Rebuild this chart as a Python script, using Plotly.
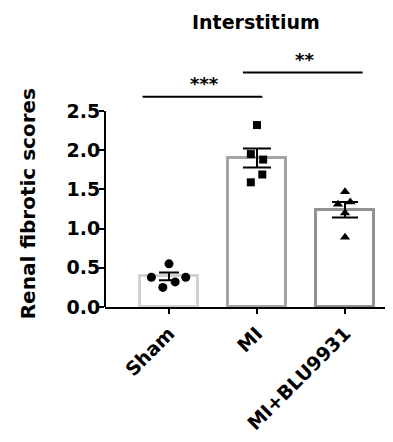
import plotly.graph_objects as go

# ---- data ----
groups = ["Sham", "MI", "MI+BLU9931"]
means = [0.39, 1.90, 1.24]
sems = [0.05, 0.12, 0.10]
sham_pts = [0.55, 0.38, 0.38, 0.32, 0.25]
mi_pts = [2.32, 1.95, 1.88, 1.69, 1.59]
blu_pts = [1.47, 1.31, 1.34, 1.20, 0.89]
sham_jit = [0.0, -0.20, 0.19, 0.07, -0.07]
mi_jit = [0.0, -0.07, 0.07, 0.06, -0.07]
blu_jit = [0.0, -0.08, 0.06, 0.0, 0.0]
sig_labels = ["***", "**"]
sig_from = [-0.30, 0.84]
sig_to = [1.06, 2.20]
sig_level = [2.68, 2.99]
y_ticks = [0.0, 0.5, 1.0, 1.5, 2.0, 2.5]

# ---- style ----
FONT = "DejaVu Sans"
bar_colors = ["#d2d2d2", "#a5a5a5", "#929292"]
cap_w = [10, 14, 13]
symbols = ["circle", "square", "triangle-up"]
points = [sham_pts, mi_pts, blu_pts]
jits = [sham_jit, mi_jit, blu_jit]

fig = go.Figure()
for i, g in enumerate(groups):
    fig.add_trace(go.Bar(
        x=[i], y=[means[i]], width=0.66,
        marker=dict(color="white", line=dict(color=bar_colors[i], width=3)),
        error_y=dict(type="data", array=[sems[i]], color="black", thickness=2, width=cap_w[i]),
        showlegend=False,
    ))
for i, g in enumerate(groups):
    fig.add_trace(go.Scatter(
        x=[i + j for j in jits[i]], y=points[i], mode="markers",
        marker=dict(symbol=symbols[i], color="black", size=9 if i != 1 else 8),
        showlegend=False, cliponaxis=False,
    ))

# y axis line only to 2.5
fig.add_shape(type="line", xref="x domain", x0=0, x1=0, yref="y", y0=0, y1=max(y_ticks),
              line=dict(color="black", width=2))

# significance brackets
for lab, a, b, lv in zip(sig_labels, sig_from, sig_to, sig_level):
    fig.add_shape(type="line", xref="x", yref="y", x0=a, x1=b, y0=lv, y1=lv,
                  line=dict(color="black", width=2))
    fig.add_annotation(x=(a + b) / 2 + 0.02, y=lv, xref="x", yref="y", text=lab,
                       showarrow=False, yanchor="bottom", yshift=1,
                       font=dict(family=FONT, size=18, color="black", weight="bold"))

fig.add_annotation(text="Interstitium", xref="paper", yref="paper", x=0.524, y=1.066,
                   xanchor="center", yanchor="middle", showarrow=False,
                   font=dict(family=FONT, size=19, color="black", weight="bold"))
fig.add_annotation(text="Renal fibrotic scores", xref="paper", yref="paper", x=-0.267, y=0.385,
                   xanchor="center", yanchor="middle", textangle=-90, showarrow=False,
                   font=dict(family=FONT, size=20, color="black", weight="bold"))

fig.update_layout(
    width=385, height=434,
    margin=dict(l=97, r=0, t=32, b=135, autoexpand=False),
    plot_bgcolor="white", paper_bgcolor="white",
    bargap=0,
    xaxis=dict(range=[-0.727, 2.545], tickvals=[0, 1, 2], ticktext=groups,
               tickangle=-45, showline=True, linecolor="black", linewidth=2,
               ticks="outside", ticklen=5, tickwidth=2, tickcolor="black",
               showgrid=False, zeroline=False, ticklabelstandoff=1, automargin=False,
               tickfont=dict(family=FONT, size=19, color="black", weight="bold")),
    yaxis=dict(range=[0, 3.405], tickvals=y_ticks, ticktext=[f"{v:.1f}" for v in y_ticks],
               showline=False, ticks="outside", ticklen=5, tickwidth=2, tickcolor="black",
               showgrid=False, zeroline=False, ticklabelstandoff=-5, automargin=False,
               tickfont=dict(family=FONT, size=19, color="black", weight="bold")),
)

fig.write_html("out.html")
